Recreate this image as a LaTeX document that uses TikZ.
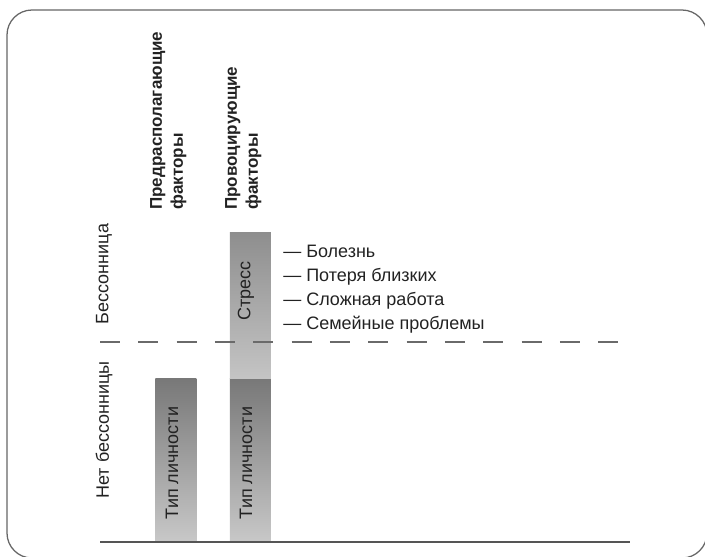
\documentclass[tikz,border=0pt]{standalone}
\usepackage{fontspec}
\setmainfont{Liberation Sans}
\usetikzlibrary{positioning}
\definecolor{insframe}{HTML}{666666}
\definecolor{insaxis}{HTML}{555555}
\definecolor{insdash}{HTML}{6a6a6a}
\definecolor{insbartop}{HTML}{787878}
\definecolor{insbarbot}{HTML}{c8c8c8}
\definecolor{insstresstop}{HTML}{8e8e8e}
\definecolor{insstressbot}{HTML}{c4c4c4}
\definecolor{instext}{HTML}{222222}
\tikzset{
  factor/.style={draw=none, top color=insbartop, bottom color=insbarbot,
                 minimum width=1.025cm, inner sep=0pt, anchor=south west},
  trigger/.style={factor, top color=insstresstop, bottom color=insstressbot},
  vlabel/.style={rotate=90, inner sep=0pt, text=instext,
                 font=\fontsize{12.8pt}{15pt}\selectfont},
  header/.style={rotate=90, anchor=north west, inner sep=0pt, align=left, text=instext,
                 font=\bfseries\fontsize{12.1pt}{14.94pt}\selectfont},
  cause/.style={anchor=north west, inner sep=0pt, align=left, text=instext,
                font=\fontsize{12.8pt}{17.07pt}\selectfont}
}

\begin{document}
\begin{tikzpicture}
    \useasboundingbox (0,0) rectangle (17.625,-13.9);
    \draw[insframe, line width=0.9pt, rounded corners=0.625cm]
      (0.175,-0.25) rectangle (17.675,-13.95);

    % bars
    \node[factor, minimum height=4.075cm] (typeA) at (3.875,-13.55) {};
    \node[factor, minimum height=4.075cm, right=0.825cm of typeA] (typeB) {};
    \node[trigger, minimum height=3.65cm, above=0pt of typeB] (stress) {};

    % threshold and axis
    \draw[insdash, line width=1.5pt, dash pattern=on 0.5cm off 0.458cm] (2.5,-8.55) -- (15.45,-8.55);
    \draw[insaxis, line width=1.4pt] (2.5,-13.55) -- (15.75,-13.55);

    \node[vlabel] (typeAlbl) at (4.3,-11.575) {Тип личности};
    \node[vlabel] (typeBlbl) at (6.15,-11.575) {Тип личности};
    \node[vlabel] (stresslbl) at (6.15,-7.275) {Стресс};

    \node[vlabel] (insomnia) at (2.6,-6.85) {Бессонница};
    \node[vlabel] (noinsomnia) at (2.6,-10.75) {Нет бессонницы};

    \node[header] (predisp) at (3.75,-5.25) {Предрасполагающие\\факторы};
    \node[header] (provoke) at (5.625,-5.25) {Провоцирующие\\факторы};

    \node[cause] (causes) at (7.075,-6.125)
      {— Болезнь\\— Потеря близких\\— Сложная работа\\— Семейные проблемы};
\end{tikzpicture}
\end{document}
